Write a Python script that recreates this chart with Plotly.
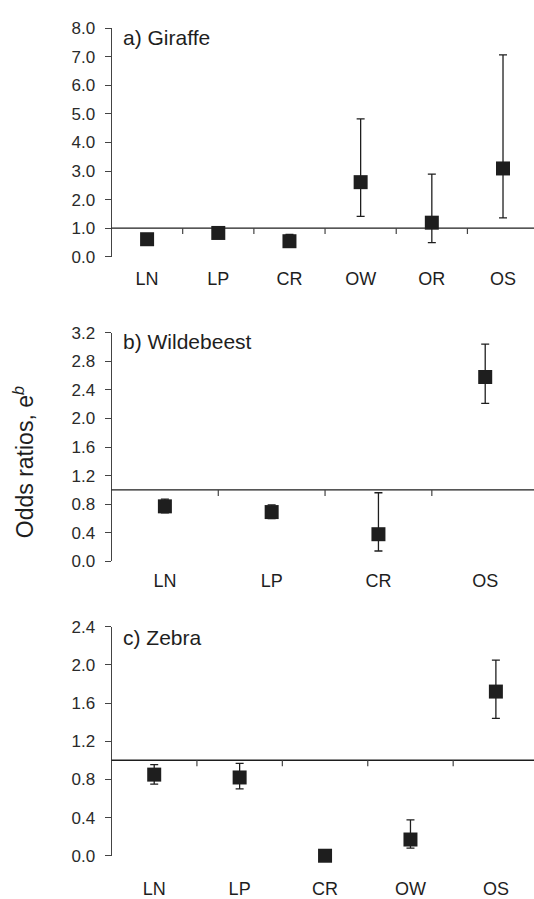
import plotly.graph_objects as go

# ---- data ----
giraffe_cats = ["LN", "LP", "CR", "OW", "OR", "OS"]
giraffe_or = [0.61, 0.83, 0.54, 2.61, 1.19, 3.09]
giraffe_lo = [0.50, 0.70, 0.35, 1.41, 0.49, 1.36]
giraffe_hi = [0.72, 0.95, 0.78, 4.83, 2.89, 7.07]

wild_cats = ["LN", "LP", "CR", "OS"]
wild_or = [0.77, 0.69, 0.38, 2.58]
wild_lo = [0.68, 0.60, 0.145, 2.21]
wild_hi = [0.87, 0.79, 0.96, 3.04]

zebra_cats = ["LN", "LP", "CR", "OW", "OS"]
zebra_or = [0.85, 0.82, 0.00, 0.17, 1.72]
zebra_lo = [0.75, 0.70, 0.00, 0.08, 1.44]
zebra_hi = [0.954, 0.967, 0.00, 0.376, 2.05]

panels = [
    dict(title="a) Giraffe", cats=giraffe_cats, v=giraffe_or, lo=giraffe_lo, hi=giraffe_hi,
         ymax=8.0, dtick=1.0, dom=[0.7186, 0.978], standoff=9, ty=29),
    dict(title="b) Wildebeest", cats=wild_cats, v=wild_or, lo=wild_lo, hi=wild_hi,
         ymax=3.2, dtick=0.4, dom=[0.3723, 0.6322], standoff=7, ty=340),
    dict(title="c) Zebra", cats=zebra_cats, v=zebra_or, lo=zebra_lo, hi=zebra_hi,
         ymax=2.4, dtick=0.4, dom=[0.0378, 0.2981], standoff=20, ty=642),
]

W, H = 534, 899
FONT = "Liberation Sans, Arial, Helvetica, sans-serif"
INK = "#1e1e1e"
AX = "#444444"
X_LEFT = 111.5
VIS = (W - X_LEFT) / (538.6 - X_LEFT)

fig = go.Figure()
shapes = []
annotations = []
layout = {}

for i, p in enumerate(panels, start=1):
    sfx = "" if i == 1 else str(i)
    xa, ya = "x" + sfx, "y" + sfx
    n = len(p["cats"])
    xs = list(range(n))
    fig.add_trace(go.Scatter(
        x=xs, y=p["v"], xaxis=xa, yaxis=ya, mode="markers",
        marker=dict(symbol="square", size=14, color=INK, line=dict(width=0)),
        error_y=dict(type="data", symmetric=False,
                     array=[h - v for h, v in zip(p["hi"], p["v"])],
                     arrayminus=[v - l for v, l in zip(p["v"], p["lo"])],
                     thickness=1.3, width=4, color=INK),
        cliponaxis=False, showlegend=False, hoverinfo="skip"))

    layout["xaxis" + sfx] = dict(
        domain=[X_LEFT / W, 1], anchor=ya,
        range=[-0.5, -0.5 + n * VIS],
        tickmode="array", tickvals=xs, ticktext=p["cats"],
        showline=False, showgrid=False, zeroline=False, ticks="",
        ticklabelstandoff=p["standoff"],
        tickfont=dict(family=FONT, size=18, color=INK), fixedrange=True)
    layout["yaxis" + sfx] = dict(
        domain=p["dom"], anchor=xa, range=[0, p["ymax"]],
        tick0=0, dtick=p["dtick"], tickformat=".1f",
        showline=True, linecolor=AX, linewidth=1,
        ticks="outside", ticklen=6, tickcolor=AX, tickwidth=1,
        ticklabelstandoff=6,
        showgrid=False, zeroline=False,
        tickfont=dict(family=FONT, size=17, color="#2a2a2a"), fixedrange=True)

    # reference line at odds ratio 1
    shapes.append(dict(type="line", xref=xa + " domain", yref=ya,
                       x0=0, x1=1, y0=1, y1=1,
                       line=dict(color=INK, width=1.4), layer="above"))
    # tick marks between categories hanging from the reference line
    for k in range(n - 1):
        shapes.append(dict(type="line", xref=xa, yref=ya,
                           xsizemode="scaled", ysizemode="pixel", yanchor=1,
                           x0=k + 0.5, x1=k + 0.5, y0=0, y1=-6,
                           line=dict(color=AX, width=1.2)))
    annotations.append(dict(text=p["title"], xref="paper", yref="paper",
                            x=121 / W, y=1 - p["ty"] / H, xanchor="left", yanchor="middle",
                            showarrow=False, font=dict(family=FONT, size=21, color=INK)))

annotations.append(dict(text="Odds ratios, e<sup><i>b</i></sup>", xref="paper", yref="paper",
                        x=24 / W, y=1 - 463 / H, xanchor="center", yanchor="middle",
                        textangle=-90, showarrow=False,
                        font=dict(family=FONT, size=23, color=INK)))

fig.update_layout(
    width=W, height=H, margin=dict(l=0, r=0, t=0, b=0),
    paper_bgcolor="white", plot_bgcolor="white",
    shapes=shapes, annotations=annotations, **layout)

fig.write_html("out.html", config={"displayModeBar": False})
